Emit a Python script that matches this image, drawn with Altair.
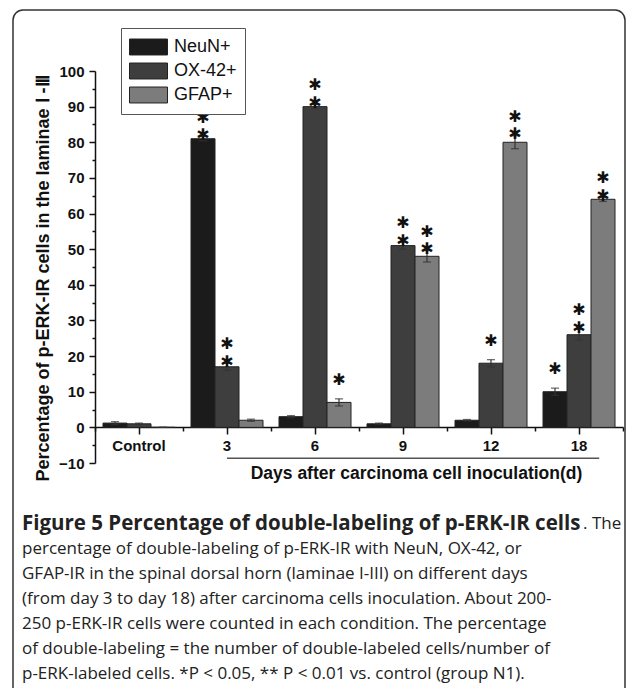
import altair as alt
import pandas as pd

days = ["Control", "3", "6", "9", "12", "18"]
cells = ["NeuN+", "OX-42+", "GFAP+"]
neun = [1.2, 81, 3, 1, 2, 10]
ox42 = [1.0, 17, 90, 51, 18, 26]
gfap = [0.0, 2, 7, 48, 80, 64]
neun_err = [0.4, 0.6, 0.3, 0.2, 0.2, 1.0]
ox42_err = [0.2, 1.0, 0.6, 1.0, 1.0, 1.5]
gfap_err = [0.0, 0.3, 1.0, 1.6, 1.8, 0.6]
neun_sig = ["", "**", "", "", "", "*"]
ox42_sig = ["", "**", "**", "**", "*", "**"]
gfap_sig = ["", "", "*", "**", "**", "**"]
colors = ["#1b1b1b", "#3e3e3e", "#7c7c7c"]
STAR = "\u2731"

y_title = "Percentage of p-ERK-IR cells in the laminae  \u2160 -\u2162"
x_title = "Days after carcinoma cell inoculation(d)"
cap_bold = "Figure 5 Percentage of double-labeling of p-ERK-IR cells"
cap_first_rest = ". The"
cap_rest = [
    "percentage of double-labeling of p-ERK-IR with NeuN, OX-42, or",
    "GFAP-IR in the spinal dorsal horn (laminae I-III) on different days",
    "(from day 3 to day 18) after carcinoma cells inoculation. About 200-",
    "250 p-ERK-IR cells were counted in each condition. The percentage",
    "of double-labeling = the number of double-labeled cells/number of",
    "p-ERK-labeled cells. *P < 0.05, ** P < 0.01 vs. control (group N1).",
]

rows = []
for cell, vals, errs, sigs in zip(cells, [neun, ox42, gfap], [neun_err, ox42_err, gfap_err],
                                  [neun_sig, ox42_sig, gfap_sig]):
    for d, v, e, s in zip(days, vals, errs, sigs):
        rows.append({"day": d, "cell": cell, "value": v, "lo": v - e, "hi": v + e,
                     "stars": "\n".join(STAR for _ in s)})
df = pd.DataFrame(rows)

line_df = pd.DataFrame({"day": ["3"], "day_end": ["18"], "value": [-8.7]})
one = pd.DataFrame({"a": [0]})

PX = 392 / 110.0
AX_OFF = -round(10 * PX)

yscale = alt.Scale(domain=[-10, 100], nice=False, zero=False)
yaxis = alt.Axis(
    values=list(range(-10, 101, 5)),
    labelExpr="datum.value % 10 === 0 ? datum.label : ''",
    tickSize={"condition": {"test": "datum.value % 10 === 0", "value": 6}, "value": 3},
    tickColor="#111", tickWidth=1.5, domainColor="#111", domainWidth=1.5,
    labelFont="Liberation Sans", labelFontWeight="bold", labelFontSize=15, labelColor="#111",
    labelPadding=5, grid=False,
    title=y_title, titleFont="Liberation Sans", titleFontWeight="bold", titleFontSize=18,
    titleColor="#111", titleX=-52, titleY=207, titleBaseline="middle", titleAlign="center",
    titleAngle=270,
)

def Y(field):
    return alt.Y(field, type="quantitative", scale=yscale, axis=yaxis)

xscale = alt.Scale(domain=days, paddingInner=0, paddingOuter=0)
xaxis = alt.Axis(
    orient="bottom", offset=AX_OFF, labelAngle=0, labelFont="Liberation Sans",
    labelFontWeight="bold", labelFontSize=15, labelColor="#111", labelPadding=4,
    tickSize=7, tickColor="#111", tickWidth=1.5, domainColor="#111", domainWidth=1.5,
    grid=False, title=x_title, titleFont="Liberation Sans", titleFontWeight="bold",
    titleFontSize=17.5, titleColor="#111", titleX=321, titleY=46,
    titleBaseline="middle", titleAlign="center",
)
xaxis_minor = alt.Axis(
    orient="bottom", offset=AX_OFF, tickBand="extent", labels=False, domain=False,
    tickSize=4, tickColor="#111", tickWidth=1.5, grid=False, title=None,
)
xoff = alt.XOffset("cell:N", sort=cells, scale=alt.Scale(paddingInner=0, paddingOuter=1 / 3))

frame = alt.Chart(one).mark_rect(
    cornerRadius=10, fillOpacity=0, stroke="#333", strokeWidth=1.5
).encode(x=alt.value(-82), x2=alt.value(530), y=alt.value(-61), y2=alt.value(640))

bars = alt.Chart(df).mark_bar(stroke="#222", strokeWidth=1).encode(
    x=alt.X("day:N", sort=days, scale=xscale, axis=xaxis),
    xOffset=xoff,
    y=Y("value"),
    color=alt.Color(
        "cell:N", sort=cells, scale=alt.Scale(domain=cells, range=colors),
        legend=alt.Legend(
            orient="none", legendX=26, legendY=-43, title=None,
            symbolType="M-1,-0.42H1V0.42H-1Z", symbolSize=1444,
            symbolStrokeColor="#222", symbolStrokeWidth=1, symbolOpacity=1,
            labelFont="Liberation Sans", labelFontSize=18, labelColor="#111",
            strokeColor="#555", fillColor="white", padding=8, rowPadding=2,
            labelOffset=6, clipHeight=22,
        ),
    ),
)

ebar = alt.Chart(df).mark_rule(color="#333", strokeWidth=1.2).encode(
    x=alt.X("day:N", sort=days, scale=xscale, axis=None), xOffset=xoff,
    y=Y("lo"), y2="hi",
)
cap_hi = alt.Chart(df).mark_tick(color="#333", size=8, thickness=1.3).encode(
    x=alt.X("day:N", sort=days, scale=xscale, axis=None), xOffset=xoff, y=Y("hi"),
)
cap_lo = alt.Chart(df).mark_tick(color="#333", size=8, thickness=1.3).encode(
    x=alt.X("day:N", sort=days, scale=xscale, axis=None), xOffset=xoff, y=Y("lo"),
)
stars = alt.Chart(df).mark_text(
    font="DejaVu Sans", fontSize=16, color="#111",
    align="center", baseline="bottom", lineBreak="\n", lineHeight=17.5, dy=-11,
).encode(
    x=alt.X("day:N", sort=days, scale=xscale, axis=None), xOffset=xoff,
    y=Y("hi"), text="stars:N",
)
days_line = alt.Chart(line_df).mark_rule(color="#555", strokeWidth=1.5).encode(
    x=alt.X("day:N", sort=days, scale=xscale, axis=xaxis_minor, bandPosition=0.5),
    x2=alt.X2("day_end", bandPosition=0.73),
    y=Y("value"),
)

cap_font = "Open Sans"
cap1 = alt.Chart(one).mark_text(
    font=cap_font, fontWeight="bold", fontSize=20.5, color="#222", align="left", baseline="middle"
).encode(x=alt.value(-73), y=alt.value(453), text=alt.value(cap_bold))
cap1b = alt.Chart(one).mark_text(
    font=cap_font, fontSize=17, color="#222", align="left", baseline="middle"
).encode(x=alt.value(488), y=alt.value(453), text=alt.value(cap_first_rest))
cap2 = alt.Chart(one).mark_text(
    font=cap_font, fontSize=17, color="#222", align="left", baseline="middle",
    lineBreak="\n", lineHeight=25,
).encode(x=alt.value(-73), y=alt.value(478), text=alt.value("\n".join(cap_rest)))

chart = alt.layer(
    frame, bars, ebar, cap_hi, cap_lo, stars, days_line, cap1, cap1b, cap2
).resolve_axis(x="independent").properties(
    width=528, height=392,
    autosize=alt.AutoSizeParams(type="none"),
    padding={"left": 87, "top": 63, "right": 5, "bottom": 225},
    background="white",
).configure_view(stroke=None)

chart.save("out.html", embed_options={"renderer": "svg", "actions": False})
